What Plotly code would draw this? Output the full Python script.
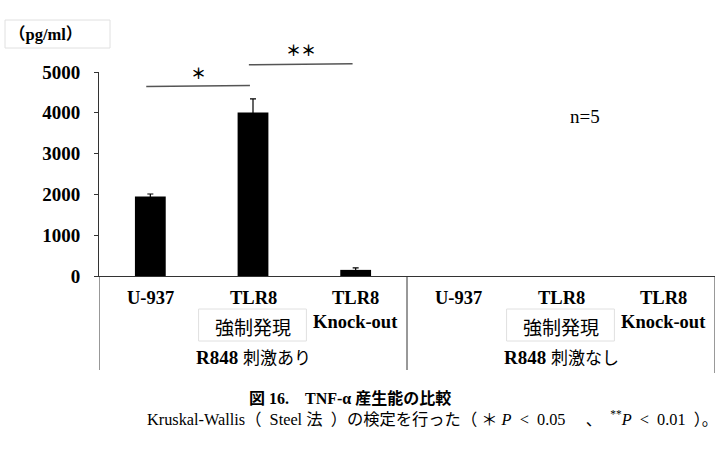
import plotly.graph_objects as go

# ---- data ----
cat_line1 = ["U-937", "TLR8", "TLR8", "U-937", "TLR8", "TLR8"]
cat_line2 = ["", "強制発現", "Knock-out", "", "強制発現", "Knock-out"]
group_labels = ["R848 刺激あり", "R848 刺激なし"]
group_members = [[0, 1, 2], [3, 4, 5]]
tnf_values = [1950, 4010, 150, None, None, None]
tnf_sd = [60, 330, 50, None, None, None]
sig_pairs = [(0, 1), (1, 2)]
sig_marks = ["＊", "＊＊"]
sig_heights = [4660, 5190]
y_ticks = [0, 1000, 2000, 3000, 4000, 5000]
y_max = 5000

W, H = 721, 461
L, R, T, B = 99, 6, 72, 185
pw, ph = W - L - R, H - T - B

def yp(py):  # pixel y -> paper
    return (H - B - py) / ph

def xp(px):  # pixel x -> paper
    return (px - L) / pw

SERIF = "Liberation Serif, Noto Sans CJK JP"
CJK = "Noto Sans CJK JP"

pos = list(range(len(cat_line1)))

fig = go.Figure()
fig.add_trace(go.Bar(
    x=pos, y=tnf_values, width=0.30,
    marker=dict(color="black", line=dict(width=0)),
    error_y=dict(type="data", array=tnf_sd, symmetric=True,
                 color="black", thickness=1.2, width=3),
    showlegend=False,
))

def A(x, y, text, family, size, xref="x", xanchor="center", weight=None):
    f = dict(family=family, size=size, color="black")
    if weight:
        f["weight"] = weight
    return dict(x=x, y=y, xref=xref, yref="paper", text=text, showarrow=False,
                xanchor=xanchor, yanchor="middle", font=f)

ann = []
shapes = []
for i, p in enumerate(pos):
    ann.append(A(p, yp(298), "<b>%s</b>" % cat_line1[i], SERIF, 18.5))
    if cat_line2[i] == "Knock-out":
        ann.append(A(p, yp(322), "<b>%s</b>" % cat_line2[i], SERIF, 18.5))
    elif cat_line2[i]:
        ann.append(A(p, yp(326), cat_line2[i], CJK, 19))
        shapes.append(dict(type="rect", xref="x", yref="paper", x0=p - 0.53, x1=p + 0.52,
                           y0=yp(309), y1=yp(341), line=dict(color="#e0e0e0", width=1)))

for g, members in zip(group_labels, group_members):
    cx = sum(members) / len(members)
    a, b = g.split(" ", 1)
    ann.append(A(cx, yp(356), "<b>%s</b> <span style='font-family:Noto Sans CJK JP;font-size:17px'>%s</span>" % (a, b),
                 SERIF, 19))

# group separators
for xs, bot in [(-0.5, 370), (2.5, 370), (5.5, 373)]:
    shapes.append(dict(type="line", xref="x", yref="paper", x0=xs, x1=xs, y0=0, y1=yp(bot),
                       line=dict(color="#333333", width=1)))

# significance lines
for (a, b), h, m, ty in zip(sig_pairs, sig_heights, sig_marks, [72, 50]):
    shapes.append(dict(type="line", xref="x", yref="paper", x0=a - 0.04, x1=b - 0.03,
                       y0=(h - 15) / y_max, y1=(h + 10) / y_max,
                       line=dict(color="#555555", width=1.5)))
    ann.append(A((a + b) / 2 - 0.03, yp(ty), m, CJK, 15, weight="bold"))

# unit label with box
shapes.append(dict(type="rect", xref="paper", yref="paper", x0=xp(5), x1=xp(110),
                   y0=yp(20), y1=yp(48), line=dict(color="#e0e0e0", width=1)))
ann.append(A(xp(7), yp(35), "<b>（pg/ml）</b>", SERIF, 16.5, xref="paper", xanchor="left"))

ann.append(A(xp(585), yp(116), "n=5", SERIF, 19, xref="paper"))

ann.append(A(xp(247), yp(398), "<b>図 16.　TNF-α 産生能の比較</b>", SERIF, 16,
             xref="paper", xanchor="left"))
ann.append(A(xp(145), yp(418),
             "Kruskal-Wallis（&#8194;Steel 法&#8194;）の検定を行った（ ＊ <i>P</i>&#8194;<&#8194;0.05 　、&#8194;<sup>**</sup><i>P</i>&#8194;<&#8194;0.01&#8194;）。",
             SERIF, 16.3, xref="paper", xanchor="left"))

fig.update_layout(
    width=W, height=H,
    margin=dict(l=L, r=R, t=T, b=B, pad=0),
    plot_bgcolor="white", paper_bgcolor="white",
    annotations=ann, shapes=shapes,
    xaxis=dict(range=[-0.5, len(pos) - 0.5], showticklabels=False, ticks="",
               showgrid=False, zeroline=False, showline=True, linecolor="#333333",
               linewidth=1, fixedrange=True),
    yaxis=dict(range=[0, y_max], tickvals=y_ticks, ticks="outside", ticklen=4,
               tickcolor="#333333", showgrid=False, zeroline=False, showline=True,
               linecolor="#333333", linewidth=1,
               tickfont=dict(family=SERIF, size=19, color="black", weight="bold"),
               ticklabelstandoff=10),
    bargap=0.7,
)

fig.write_html("out.html")
